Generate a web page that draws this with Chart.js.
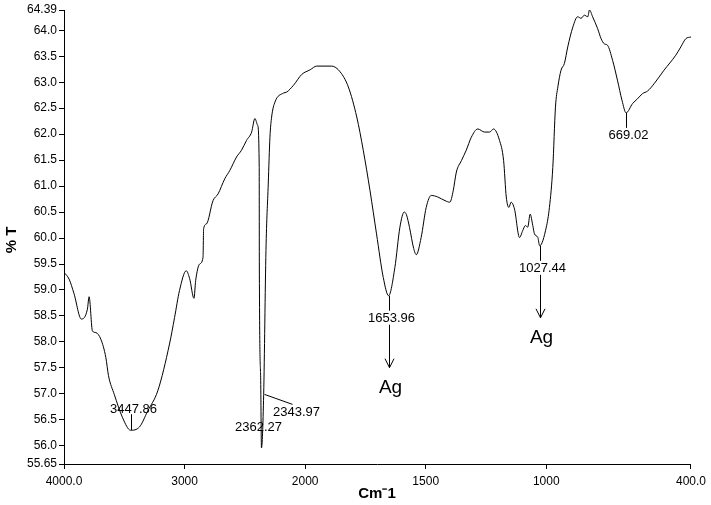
<!DOCTYPE html>
<html>
<head>
<meta charset="utf-8">
<script src="https://cdn.jsdelivr.net/npm/chart.js@4"></script>
<style>
  body { margin: 0; background: #fff; }
  #wrap { width: 711px; height: 505px; }
</style>
</head>
<body>
<div id="wrap"><canvas id="chart" width="711" height="505"></canvas></div>
<script>

// spectrum (wavenumber in cm-1, % transmittance)
const wavenumbers = [
  4000, 3958, 3917, 3856, 3806, 3792, 3764, 3736, 3694, 3653, 3631, 3583, 3514,
  3447.86, 3375, 3306, 3222, 3125, 3083, 3042, 2986, 2958, 2922, 2908, 2875, 2847,
  2842, 2819, 2764, 2722, 2667, 2625, 2569, 2528, 2486, 2444, 2417, 2394, 2381,
  2380, 2369, 2362.27, 2343.97, 2325, 2306, 2292, 2278, 2250, 2181, 2153, 2097,
  2028, 1979, 1952, 1890, 1855, 1821, 1786, 1759, 1731, 1704, 1676, 1653.96,
  1628, 1607, 1589, 1580, 1567, 1550, 1539, 1519, 1498, 1477, 1450, 1420, 1400,
  1386, 1373, 1352, 1332, 1311, 1284, 1256, 1235, 1219, 1194, 1177, 1166, 1155,
  1146, 1132, 1111, 1098, 1087, 1077, 1067, 1056, 1049, 1035, 1027.44, 1000, 987,
  973, 962, 952, 939, 925, 911, 890, 870, 856, 842, 828, 821, 808, 787, 773, 760,
  746, 725, 705, 686, 669.02, 642, 622, 601, 580, 553, 512, 463, 442, 421, 400
];
const transmittance = [
  59.34, 59.21, 58.93, 58.44, 58.63, 58.87, 58.21, 58.18, 58.05, 57.70, 57.35, 56.99, 56.54,
  56.30, 56.36, 56.67, 57.06, 57.96, 58.47, 58.99, 59.37, 59.22, 58.84, 59.18, 59.50, 59.63,
  60.18, 60.27, 60.72, 60.85, 61.14, 61.30, 61.56, 61.69, 61.88, 62.04, 62.30, 62.17, 61.36,
  59.50, 57.31, 55.96, 56.99, 59.76, 61.04, 61.94, 62.33, 62.62, 62.79, 62.81, 62.94,
  63.15, 63.24, 63.31, 63.31, 63.20, 62.91, 62.33, 61.69, 60.91, 60.08, 59.24, 58.89,
  59.43, 60.21, 60.50, 60.45, 60.20, 59.80, 59.68, 60.01, 60.59, 60.82, 60.79, 60.72, 60.69,
  60.91, 61.27, 61.49, 61.69, 61.94, 62.10, 62.04, 62.04, 62.10, 61.88, 61.49, 60.79, 60.59,
  60.69, 60.56, 60.01, 60.14, 60.24, 60.21, 60.46, 60.24, 60.08, 60.01, 59.85, 60.21, 60.59,
  61.36, 62.52, 62.91, 63.23, 63.36, 63.68, 64.06, 64.26, 64.23, 64.29, 64.26, 64.39, 64.26, 64.03, 63.84, 63.74,
  63.71, 63.42, 63.04, 62.65, 62.41, 62.59, 62.68, 62.78, 62.83, 62.97, 63.23, 63.52, 63.68, 63.84, 63.87
];

const yTicks = [55.65, 56.0, 56.5, 57.0, 57.5, 58.0, 58.5, 59.0, 59.5, 60.0, 60.5,
  61.0, 61.5, 62.0, 62.5, 63.0, 63.5, 64.0, 64.39];
const xTickValues = [4000, 3000, 2000, 1500, 1000, 400];
const xTickLabels = ["4000.0", "3000", "2000", "1500", "1000", "400.0"];

// labelled peaks
const peakWn = [3447.86, 2362.27, 2343.97, 1653.96, 1027.44, 669.02];
const peakLabels = ["3447.86", "2362.27", "2343.97", "1653.96", "1027.44", "669.02"];
const peakKind = ["up", "plain", "side", "ag", "ag", "down"];

// FTIR axis: scale doubles below 2000 cm-1
function toAxis(w) {
  return w >= 2000 ? (4000 - w) / 2 : 1000 + (2000 - w);
}

const FONT = "Arial, 'Liberation Sans', sans-serif";

const points = wavenumbers.map((w, i) => ({ x: toAxis(w), y: transmittance[i] }));

const annotatePlugin = {
  id: "annotate",
  afterDraw(chart) {
    const ctx = chart.ctx;
    const xs = chart.scales.x, ys = chart.scales.y;
    ctx.save();
    ctx.strokeStyle = "#000";
    ctx.fillStyle = "#000";
    ctx.lineWidth = 1;
    ctx.textAlign = "center";
    ctx.textBaseline = "middle";

    function line(x1, y1, x2, y2) {
      ctx.beginPath();
      ctx.moveTo(x1, y1);
      ctx.lineTo(x2, y2);
      ctx.stroke();
    }

    peakWn.forEach((w, i) => {
      const idx = wavenumbers.indexOf(w);
      const px = Math.round(xs.getPixelForValue(toAxis(w))) + 0.5;
      const py = ys.getPixelForValue(transmittance[idx]);
      ctx.font = "13px " + FONT;
      const kind = peakKind[i];
      if (kind === "up") {
        line(px, py, px, py - 16);
        ctx.fillText(peakLabels[i], px + 2, py - 21);
      } else if (kind === "plain") {
        ctx.fillText(peakLabels[i], px - 3, py - 20);
      } else if (kind === "side") {
        line(px, py, px + 28, py + 10);
        ctx.fillText(peakLabels[i], px + 32, py + 18);
      } else {
        line(px, py, px, py + 15);
        ctx.fillText(peakLabels[i], px + 2, py + 23);
        if (kind === "ag") {
          line(px, py + 29, px, py + 72);
          ctx.beginPath();
          ctx.moveTo(px - 4.5, py + 63);
          ctx.lineTo(px, py + 72);
          ctx.lineTo(px + 4.5, py + 63);
          ctx.stroke();
          ctx.font = "19px " + FONT;
          ctx.fillText("Ag", px + 1, py + 92);
        }
      }
    });

    // axis titles
    ctx.font = "bold 15px " + FONT;
    ctx.fillText("Cm\u207B1", 377, 494);
    ctx.translate(12, 240);
    ctx.rotate(-Math.PI / 2);
    ctx.fillText("% T", 0, 0);
    ctx.restore();
  }
};

new Chart(document.getElementById("chart").getContext("2d"), {
  type: "line",
  data: {
    datasets: [{
      data: points,
      borderColor: "#000",
      borderWidth: 1,
      pointRadius: 0,
      cubicInterpolationMode: "monotone",
      fill: false
    }]
  },
  options: {
    responsive: false,
    animation: false,
    events: [],
    layout: { padding: { top: 10, right: 19, left: 0, bottom: 0 } },
    plugins: { legend: { display: false }, tooltip: { enabled: false } },
    scales: {
      x: {
        type: "linear",
        min: 0,
        max: toAxis(400),
        afterBuildTicks: s => { s.ticks = xTickValues.map(w => ({ value: toAxis(w) })); },
        afterFit: s => { s.height = 41; },
        ticks: {
          autoSkip: false,
          maxRotation: 0,
          padding: 5,
          color: "#000",
          font: { family: FONT, size: 12 },
          callback: (v, i) => xTickLabels[i]
        },
        grid: { drawOnChartArea: false, drawTicks: true, tickLength: 5, color: "#000" },
        border: { display: true, color: "#000", width: 1 }
      },
      y: {
        min: 55.65,
        max: 64.39,
        afterBuildTicks: s => { s.ticks = yTicks.map(v => ({ value: v })); },
        afterFit: s => { s.width = 64; },
        ticks: {
          autoSkip: false,
          padding: 2,
          color: "#000",
          font: { family: FONT, size: 12 },
          callback: v => (v === 55.65 || v === 64.39) ? v.toFixed(2) : v.toFixed(1)
        },
        grid: { drawOnChartArea: false, drawTicks: true, tickLength: 5, color: "#000" },
        border: { display: true, color: "#000", width: 1 }
      }
    }
  },
  plugins: [annotatePlugin]
});

</script>
</body>
</html>
